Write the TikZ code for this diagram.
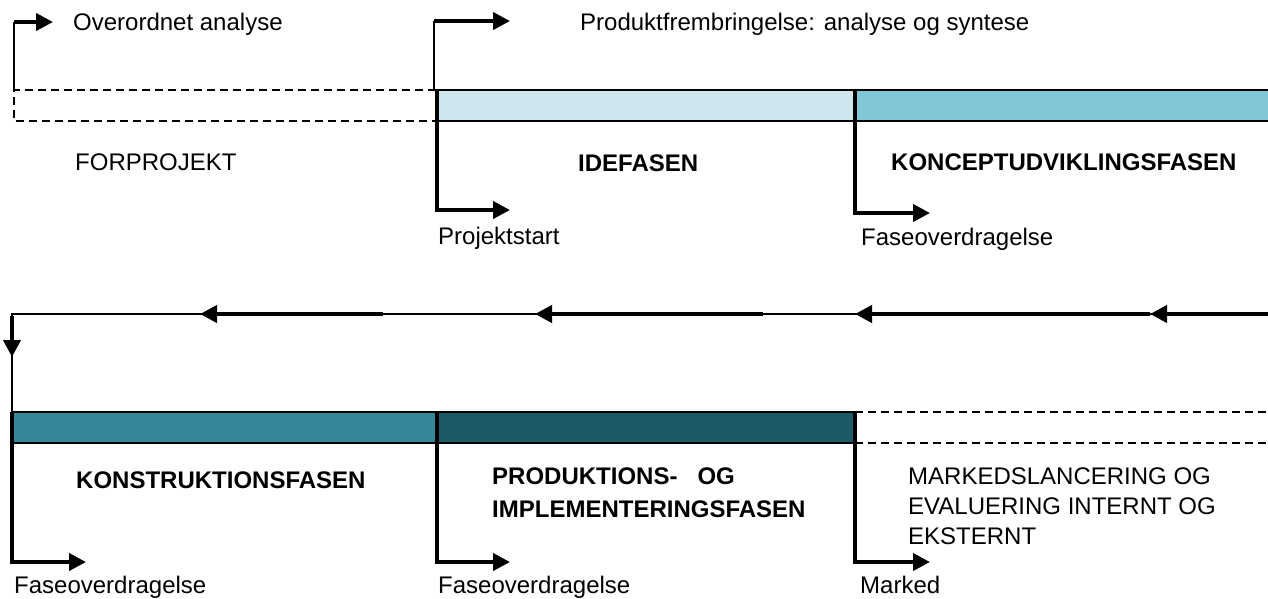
\documentclass[tikz,border=0pt]{standalone}
\usepackage{fontspec}
\setmainfont{Liberation Sans}
\usetikzlibrary{arrows.meta}
\definecolor{ideC}{HTML}{D0E6EE}
\definecolor{konC}{HTML}{80C8D6}
\definecolor{strC}{HTML}{348798}
\definecolor{prdC}{HTML}{1C5A68}
\begin{document}
\begin{tikzpicture}[x=1pt,y=-1pt,
  lbl/.style={inner sep=0pt, anchor=base west, font=\fontsize{24}{30}\selectfont},
  phase/.style={lbl, font=\fontsize{24}{33}\selectfont\bfseries},
  thinline/.style={line width=1.5pt},
  thickarr/.style={line width=4pt, -{Triangle[length=17pt,width=17pt]}},
  bar/.style={draw=black, line width=1.5pt},
  dashline/.style={line width=1.5pt, dash pattern=on 8pt off 5pt}
]
\useasboundingbox (0,0) rectangle (1268,598);

% ---------- coordinates ----------
\coordinate (tlTop) at (14,22);
\coordinate (tlBot) at (14,90);
\coordinate (tlArr) at (53,22);
\coordinate (pTop) at (434,21);
\coordinate (pBot) at (434,90);
\coordinate (pArr) at (510,21);
\coordinate (g1a) at (437,90);
\coordinate (g1b) at (437,210);
\coordinate (g1c) at (510,210);
\coordinate (g2a) at (855,90);
\coordinate (g2b) at (855,213);
\coordinate (g2c) at (930,213);
% return line
\coordinate (rR) at (1270,314);
\coordinate (r1) at (1150,314);
\coordinate (r2) at (855,314);
\coordinate (r3) at (763,314);
\coordinate (r4) at (535,314);
\coordinate (r5) at (383,314);
\coordinate (r6) at (200,314);
\coordinate (rL) at (12,314);
\coordinate (rD) at (12,357);
\coordinate (rB) at (12,412);
% bottom gates
\coordinate (g3a) at (12,412);
\coordinate (g3b) at (12,562);
\coordinate (g3c) at (86,562);
\coordinate (g4a) at (437,412);
\coordinate (g4b) at (437,562);
\coordinate (g4c) at (510,562);
\coordinate (g5a) at (855,412);
\coordinate (g5b) at (855,562);
\coordinate (g5c) at (930,562);

% ---------- top row ----------
\draw[dashline] (436,90) -- (14,90) -- (14,121) -- (436,121);
\draw[bar, fill=ideC] (436,90) rectangle (855,121);
\draw[bar, fill=konC] (855,90) rectangle (1272,121);

\draw[thinline] (tlBot) -- (tlTop);
\draw[thickarr] (tlTop) -- (tlArr);
\draw[thinline] (pBot) -- (pTop);
\draw[thickarr] (pTop) -- (pArr);
\draw[thickarr] (g1a) -- (g1b) -- (g1c);
\draw[thickarr] (g2a) -- (g2b) -- (g2c);

\node[lbl] (oa) at (73,30) {Overordnet analyse};
\node[lbl] (pf) at (580,30) {Produktfrembringelse: analyse og syntese};
\node[lbl] (fp) at (75,170) {FORPROJEKT};
\node[phase] (ide) at (578,171) {IDEFASEN};
\node[phase] (kon) at (891,170) {KONCEPTUDVIKLINGSFASEN};
\node[lbl] (ps) at (438,244) {Projektstart};
\node[lbl] (fo1) at (861,245) {Faseoverdragelse};

% ---------- return line ----------
\draw[thinline] (rR) -- (rL) -- (rB);
\draw[thickarr] (rR) -- (r1);
\draw[thickarr] (r1) -- (r2);
\draw[thickarr] (r3) -- (r4);
\draw[thickarr] (r5) -- (r6);
\draw[thickarr] ([yshift=-2pt]rL) -- (rD);

% ---------- bottom row ----------
\draw[bar, fill=strC] (12,412) rectangle (437,443);
\draw[bar, fill=prdC] (437,412) rectangle (855,443);
\draw[dashline] (855,412) -- (1272,412);
\draw[dashline] (855,443) -- (1272,443);

\draw[thickarr] (g3a) -- (g3b) -- (g3c);
\draw[thickarr] (g4a) -- (g4b) -- (g4c);
\draw[thickarr] (g5a) -- (g5b) -- (g5c);

\node[phase] (kst) at (76,488) {KONSTRUKTIONSFASEN};
\node[phase, anchor=north west, align=left] (prd) at (492,468) {PRODUKTIONS-\ \ \ OG\\IMPLEMENTERINGSFASEN};
\node[lbl, anchor=north west, align=left] (mkl) at (908,468) {MARKEDSLANCERING OG\\EVALUERING INTERNT OG\\EKSTERNT};
\node[lbl] (fo2) at (14,593) {Faseoverdragelse};
\node[lbl] (fo3) at (438,593) {Faseoverdragelse};
\node[lbl] (mk) at (860,593) {Marked};
\end{tikzpicture}
\end{document}
